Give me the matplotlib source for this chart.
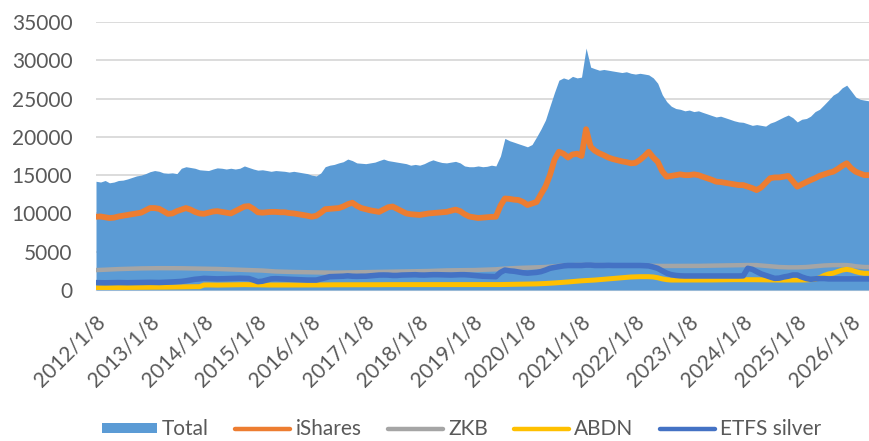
import numpy as np
import pandas as pd
import matplotlib
matplotlib.use('Agg')
import matplotlib.pyplot as plt
from matplotlib.patches import Patch
from matplotlib.lines import Line2D

plt.rcParams['font.family'] = ['Lato', 'DejaVu Sans']

# monthly readings, Dec 2011 .. Apr 2026
dates = pd.date_range('2011-12-01', periods=173, freq='MS')

total = [
    14200, 14100, 14300, 14000, 14100, 14300, 14350, 14500, 14700, 14900, 15000, 15200,
    15450, 15600, 15500, 15300, 15250, 15300, 15200, 15900, 16100, 16000, 15900, 15700,
    15650, 15600, 15800, 15950, 15900, 15800, 15900, 15800, 15900, 16200, 16000, 15800,
    15650, 15700, 15600, 15500, 15600, 15550, 15500, 15400, 15500, 15400, 15300, 15200,
    15000, 14900, 15300, 16100, 16300, 16400, 16600, 16750, 17100, 16900, 16600, 16550,
    16500, 16600, 16700, 16900, 17100, 16900, 16800, 16700, 16600, 16500, 16300, 16400,
    16300, 16500, 16800, 17000, 16800, 16650, 16600, 16700, 16800, 16600, 16200, 16100,
    16100, 16200, 16100, 16150, 16300, 16200, 17500, 19800, 19500, 19300, 19100, 18900,
    18700, 19000, 20000, 21000, 22200, 24000, 25800, 27400, 27700, 27500, 27900, 27700,
    27800, 31600, 29100, 28900, 28700, 28800, 28700, 28600, 28500, 28400, 28500, 28300,
    28200, 28300, 28200, 28100, 27700, 27000, 25500, 24600, 24000, 23700, 23600, 23400,
    23500, 23300, 23400, 23200, 23000, 22800, 22600, 22700, 22500, 22300, 22100, 21950,
    21900, 21700, 21500, 21600, 21500, 21400, 21800, 22000, 22300, 22600, 22850, 22500,
    21950, 22300, 22400, 22700, 23300, 23600, 24200, 24800, 25450, 25800, 26400, 26750,
    26000, 25200, 24900, 24800, 24700,
]

ishares = [
    9570, 9600, 9500, 9400, 9450, 9600, 9700, 9800, 9900, 10000, 10100, 10400,
    10700, 10700, 10600, 10300, 9950, 10000, 10300, 10500, 10700, 10500, 10200, 10000,
    9950, 10100, 10250, 10300, 10200, 10100, 10000, 10300, 10600, 10900, 10950, 10600,
    10150, 10100, 10150, 10200, 10200, 10150, 10150, 10050, 10000, 9900, 9800, 9700,
    9570, 9700, 10100, 10550, 10600, 10650, 10700, 10900, 11200, 11400, 11000, 10700,
    10550, 10400, 10300, 10200, 10500, 10800, 10900, 10600, 10300, 10000, 9900, 9850,
    9800, 9900, 10000, 10050, 10100, 10150, 10200, 10350, 10500, 10300, 9900, 9600,
    9500, 9400, 9450, 9500, 9550, 9570, 11000, 11950, 11900, 11800, 11750, 11500,
    11100, 11300, 11500, 12500, 13500, 15000, 17000, 18050, 17800, 17300, 17700, 17800,
    17500, 21000, 18700, 18200, 17850, 17600, 17300, 17100, 16950, 16800, 16700, 16550,
    16600, 17000, 17500, 18050, 17300, 16750, 15500, 14800, 14900, 15000, 15100, 15000,
    15000, 15100, 15000, 14800, 14600, 14400, 14150, 14100, 14000, 13900, 13800, 13700,
    13700, 13500, 13300, 13050, 13400, 14000, 14600, 14700, 14700, 14800, 14900, 14200,
    13500, 13800, 14100, 14350, 14600, 14900, 15100, 15300, 15450, 15800, 16200, 16550,
    15900, 15450, 15200, 15000, 15000,
]

zkb = [
    2600, 2620, 2650, 2680, 2700, 2730, 2750, 2780, 2800, 2800, 2820, 2830,
    2830, 2840, 2850, 2850, 2860, 2850, 2850, 2840, 2830, 2820, 2800, 2800,
    2790, 2780, 2770, 2750, 2730, 2700, 2680, 2660, 2640, 2620, 2600, 2580,
    2560, 2540, 2500, 2460, 2420, 2400, 2380, 2360, 2350, 2340, 2330, 2320,
    2300, 2290, 2280, 2270, 2260, 2260, 2270, 2280, 2290, 2300, 2310, 2320,
    2330, 2340, 2350, 2360, 2370, 2380, 2390, 2400, 2410, 2420, 2430, 2440,
    2450, 2460, 2480, 2500, 2520, 2540, 2560, 2570, 2580, 2590, 2600, 2600,
    2600, 2620, 2640, 2660, 2680, 2700, 2750, 2800, 2830, 2850, 2880, 2900,
    2920, 2940, 2960, 2980, 3000, 3050, 3100, 3150, 3200, 3220, 3240, 3260,
    3260, 3270, 3270, 3260, 3250, 3240, 3230, 3220, 3210, 3200, 3200, 3190,
    3180, 3170, 3170, 3160, 3150, 3150, 3140, 3140, 3130, 3130, 3130, 3130,
    3130, 3140, 3150, 3160, 3170, 3180, 3190, 3200, 3210, 3220, 3230, 3240,
    3250, 3260, 3260, 3250, 3200, 3150, 3100, 3050, 3000, 2980, 2960, 2960,
    2960, 2980, 3000, 3050, 3100, 3150, 3200, 3230, 3250, 3260, 3260, 3250,
    3200, 3100, 3050, 3000, 3000,
]

abdn = [
    300, 300, 310, 310, 320, 320, 330, 330, 340, 340, 350, 350,
    360, 360, 370, 370, 380, 380, 390, 400, 410, 420, 430, 430,
    650, 660, 650, 640, 650, 660, 670, 680, 690, 700, 690, 680,
    670, 660, 650, 650, 650, 650, 650, 650, 650, 650, 650, 650,
    650, 650, 660, 670, 680, 680, 680, 680, 680, 680, 680, 680,
    680, 690, 690, 690, 700, 700, 700, 700, 700, 700, 700, 700,
    700, 700, 700, 700, 700, 700, 700, 700, 700, 700, 700, 700,
    700, 700, 700, 700, 700, 700, 710, 720, 730, 740, 750, 760,
    770, 780, 800, 820, 850, 880, 920, 960, 1000, 1050, 1100, 1150,
    1200, 1230, 1260, 1300, 1350, 1400, 1450, 1500, 1550, 1600, 1650, 1700,
    1720, 1740, 1740, 1740, 1700, 1600, 1450, 1350, 1300, 1300, 1300, 1300,
    1300, 1300, 1300, 1300, 1300, 1310, 1320, 1330, 1340, 1350, 1350, 1350,
    1350, 1350, 1350, 1340, 1330, 1320, 1310, 1300, 1300, 1300, 1300, 1300,
    1300, 1310, 1320, 1350, 1400, 1600, 1900, 2100, 2200, 2400, 2600, 2700,
    2600, 2400, 2250, 2180, 2180,
]

etfs = [
    960, 950, 940, 950, 960, 970, 960, 950, 960, 980, 990, 1000,
    1000, 990, 980, 1000, 1020, 1050, 1090, 1120, 1200, 1300, 1400, 1450,
    1520, 1500, 1480, 1450, 1460, 1480, 1500, 1520, 1540, 1520, 1500, 1300,
    1090, 1150, 1300, 1450, 1480, 1450, 1420, 1400, 1380, 1350, 1320, 1300,
    1300, 1300, 1450, 1600, 1740, 1760, 1780, 1800, 1850, 1800, 1780, 1800,
    1800, 1850, 1900, 1950, 1960, 1950, 1900, 1900, 1950, 1960, 1980, 2000,
    1960, 1950, 1980, 2000, 2000, 1980, 1960, 1950, 1980, 2000, 2000, 1960,
    1900, 1850, 1800, 1780, 1760, 1740, 2300, 2600, 2500, 2450, 2350, 2250,
    2200, 2250, 2300, 2400, 2600, 2830, 2950, 3050, 3150, 3200, 3200, 3200,
    3200, 3250, 3250, 3200, 3200, 3200, 3220, 3200, 3200, 3200, 3200, 3200,
    3200, 3200, 3180, 3150, 3000, 2830, 2500, 2200, 2000, 1900, 1850, 1830,
    1830, 1830, 1820, 1830, 1830, 1830, 1820, 1830, 1830, 1830, 1830, 1830,
    1850, 2830, 2700, 2400, 2100, 1900, 1700, 1520, 1550, 1700, 1800, 1960,
    1960, 1700, 1500, 1400, 1450, 1500, 1500, 1450, 1450, 1450, 1450, 1450,
    1450, 1450, 1450, 1450, 1450,
]

tick_dates = pd.to_datetime([f'{y}-01-08' for y in range(2012, 2027)])
tick_labels = [f'{y}/1/8' for y in range(2012, 2027)]

c_total = '#5B9BD5'
c_ish = '#ED7D31'
c_zkb = '#A5A5A5'
c_abdn = '#FFC000'
c_etfs = '#4472C4'
txt = '#595959'

fig = plt.figure(figsize=(8.69, 4.41), dpi=100)
ax = fig.add_axes([96/869, 1-290/441, (869-96)/869, (290-22)/441])

ax.fill_between(dates, total, 0, color=c_total, lw=0, zorder=2)
ax.plot(dates, ishares, color=c_ish, lw=4.2, zorder=3, solid_capstyle='round')
ax.plot(dates, zkb, color=c_zkb, lw=3.2, zorder=3)
ax.plot(dates, abdn, color=c_abdn, lw=3.6, zorder=3)
ax.plot(dates, etfs, color=c_etfs, lw=4.0, zorder=3)

ax.set_xlim(dates[0], dates[-1])
ax.set_ylim(0, 35000)
ax.set_yticks(range(0, 35001, 5000))
ax.grid(axis='y', color='#D9D9D9', lw=1.3, zorder=0)
ax.set_axisbelow(True)
for s in ['top', 'right', 'left']:
    ax.spines[s].set_visible(False)
ax.spines['bottom'].set_color('#D9D9D9')
ax.spines['bottom'].set_zorder(1)

ax.set_xticks(tick_dates)
ax.set_xticklabels(tick_labels, rotation=45, ha='right', va='center',
                   rotation_mode='anchor')
ax.tick_params(axis='x', length=0, pad=21, labelsize=15, labelcolor=txt)
ax.tick_params(axis='y', length=0, pad=17, labelsize=15, labelcolor=txt)

handles = [
    Patch(facecolor=c_total, edgecolor='none'),
    Line2D([], [], color=c_ish, lw=3.2, solid_capstyle='round'),
    Line2D([], [], color=c_zkb, lw=3.2, solid_capstyle='round'),
    Line2D([], [], color=c_abdn, lw=3.2, solid_capstyle='round'),
    Line2D([], [], color=c_etfs, lw=3.2, solid_capstyle='round'),
]
labels = ['Total', 'iShares', 'ZKB', 'ABDN', 'ETFS silver']
leg = fig.legend(handles, labels, loc='center', bbox_to_anchor=(0.531, 0.027),
                 ncol=5, frameon=False, fontsize=15, handlelength=2.65,
                 handleheight=0.35, handletextpad=0.25, columnspacing=1.25,
                 borderpad=0)
for t in leg.get_texts():
    t.set_color(txt)

fig.savefig('out.png', dpi=100)
